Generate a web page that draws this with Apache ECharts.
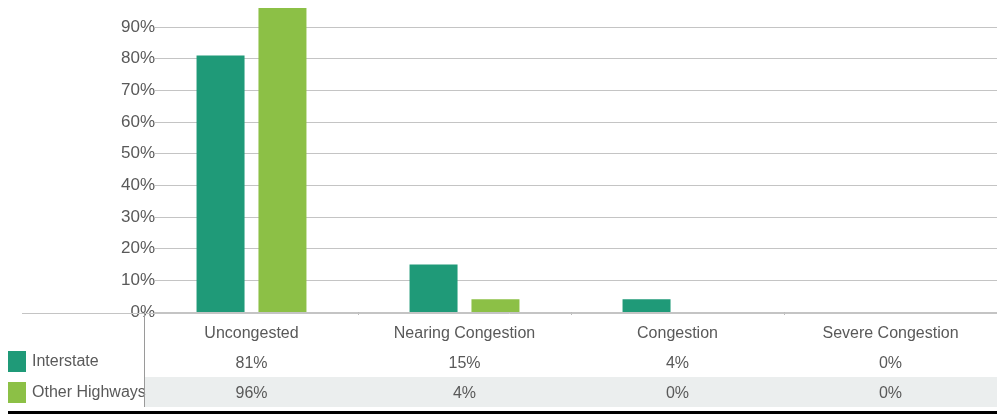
<!DOCTYPE html>
<html><head><meta charset="utf-8">
<script src="https://cdn.jsdelivr.net/npm/echarts@6/dist/echarts.min.js"></script>
<style>html,body{margin:0;padding:0;background:#fff}#c{width:997px;height:414px}</style>
</head><body><div id="c"></div>
<script>
const categories = ['Uncongested', 'Nearing Congestion', 'Congestion', 'Severe Congestion'];
const seriesNames = ['Interstate', 'Other Highways'];
const interstate = [81, 15, 4, 0];
const otherHighways = [96, 4, 0, 0];
const yTicks = [0, 10, 20, 30, 40, 50, 60, 70, 80, 90];

const FONT = '"Liberation Sans", Arial, sans-serif';
const TXT = '#595959';
const legendBase = {
  orient: 'vertical', left: 8, itemWidth: 18, itemHeight: 21, itemGap: 9,
  icon: 'rect', selectedMode: false, padding: 0,
  textStyle: { fontFamily: FONT, fontSize: 16, color: TXT, padding: [0, 0, 0, 1] }
};
const chart = echarts.init(document.getElementById('c'));
chart.setOption({
  animation: false,
  textStyle: { fontFamily: FONT },
  grid: { left: 145, right: 0, top: 27, bottom: 102, containLabel: false },
  legend: [
    Object.assign({}, legendBase, { top: 351, data: [seriesNames[0]] }),
    Object.assign({}, legendBase, { top: 382, data: [seriesNames[1]] })
  ],
  graphic: [
    { type: 'rect', z: -10, shape: { x: 144, y: 377, width: 853, height: 30 }, style: { fill: '#ebeeee' } },
    { type: 'line', z: 100, shape: { x1: 22, y1: 313.5, x2: 997, y2: 313.5 }, style: { stroke: '#c4c4c4', lineWidth: 1 } },
    { type: 'line', z: 100, shape: { x1: 144.5, y1: 313, x2: 144.5, y2: 407 }, style: { stroke: '#9a9a9a', lineWidth: 1 } },
    { type: 'line', z: 100, shape: { x1: 8, y1: 412.5, x2: 997, y2: 412.5 }, style: { stroke: '#000', lineWidth: 3 } }
  ],
  xAxis: {
    type: 'category', data: categories,
    axisLine: { show: false },
    axisTick: { show: true, length: 3, lineStyle: { color: '#bbb' } },
    axisLabel: {
      margin: 7, interval: 0,
      formatter: (v, i) => `{c|${v}}\n{v|${interstate[i]}%}\n{v|${otherHighways[i]}%}`,
      rich: {
        c: { fontFamily: FONT, fontSize: 16, color: TXT, lineHeight: 30, height: 30 },
        v: { fontFamily: FONT, fontSize: 16, color: TXT, lineHeight: 30, height: 30 }
      }
    }
  },
  yAxis: {
    type: 'value', min: 0, max: 90, interval: 10,
    axisLine: { show: false }, axisTick: { show: false },
    splitLine: { lineStyle: { color: '#c4c4c4', width: 1 } },
    axisLabel: {
      margin: -10, fontFamily: FONT, fontSize: 17, color: TXT,
      backgroundColor: '#fff', padding: [1, 0, 1, 2],
      formatter: v => yTicks.includes(v) ? v + '%' : ''
    }
  },
  series: [
    { name: seriesNames[0], type: 'bar', data: interstate, barWidth: 48, barGap: '29%', clip: false,
      itemStyle: { color: '#1f9a78' } },
    { name: seriesNames[1], type: 'bar', data: otherHighways, barWidth: 48, clip: false,
      itemStyle: { color: '#8cc046' } }
  ]
});
</script></body></html>
